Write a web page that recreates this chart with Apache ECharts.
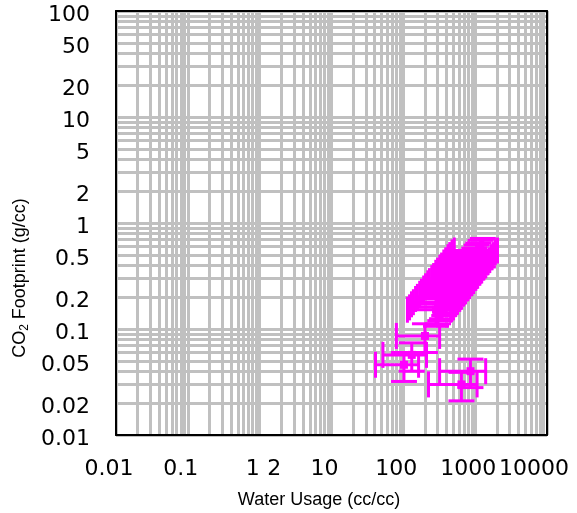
<!DOCTYPE html>
<html>
<head>
<meta charset="utf-8">
<script src="https://cdn.jsdelivr.net/npm/echarts@6/dist/echarts.min.js"></script>
<style>
  html, body { margin: 0; padding: 0; background: #fff; }
  #chart { width: 577px; height: 513px; }
</style>
</head>
<body>
<div id="chart"></div>
<script>
// water usage (cc/cc) and CO2 footprint (g/cc), with symmetric error sizes
var waterUsage = [285, 304, 326, 346, 371, 393, 422, 448, 480, 509, 547, 578,
                  622, 659, 707, 750, 805, 853, 915, 972, 1045, 1105, 1190, 1280,
                  200, 131, 102, 860, 644];
var co2Footprint = [0.152, 0.160, 0.171, 0.179, 0.192, 0.201, 0.215, 0.225, 0.241, 0.253, 0.270, 0.283,
                    0.302, 0.316, 0.339, 0.355, 0.379, 0.397, 0.424, 0.445, 0.476, 0.498, 0.528, 0.550,
                    0.086, 0.057, 0.046, 0.040, 0.030];
var waterErr = [171, 182, 196, 208, 223, 236, 253, 269, 288, 305, 328, 347,
                373, 395, 424, 450, 483, 512, 549, 583, 627, 663, 714, 768,
                120, 79, 61, 540, 420];
var co2Err = [0.046, 0.048, 0.051, 0.054, 0.058, 0.060, 0.065, 0.068, 0.072, 0.076, 0.081, 0.085,
              0.091, 0.095, 0.102, 0.107, 0.114, 0.119, 0.127, 0.134, 0.143, 0.149, 0.158, 0.165,
              0.026, 0.017, 0.014, 0.012, 0.009];

var xLabels = [0.01, 0.1, 1, 2, 10, 100, 1000, 10000];
var yLabels = [0.01, 0.02, 0.05, 0.1, 0.2, 0.5, 1, 2, 5, 10, 20, 50, 100];

// log grid lines: 1..9 in every decade
function logGrid(lo, hi) {
    var out = [];
    for (var d = lo; d < hi; d++) {
        for (var m = 1; m < 10; m++) {
            out.push(Number((m * Math.pow(10, d)).toPrecision(6)));
        }
    }
    out.push(Math.pow(10, hi));
    return out;
}

function fmt(v) {
    return String(Number(Number(v).toPrecision(6)));
}

var points = waterUsage.map(function (w, i) {
    return [w, co2Footprint[i], waterErr[i], co2Err[i]];
});

var COLOR = '#ff00ff';

function renderErrorBar(params, api) {
    var x = api.value(0), y = api.value(1), ex = api.value(2), ey = api.value(3);
    var c = api.coord([x, y]);
    var l = api.coord([x - ex, y]);
    var r = api.coord([x + ex, y]);
    var t = api.coord([x, y + ey]);
    var b = api.coord([x, y - ey]);
    var cap = 13;
    var st = { stroke: COLOR, lineWidth: 3, fill: null };
    function ln(x1, y1, x2, y2) {
        return { type: 'line', shape: { x1: x1, y1: y1, x2: x2, y2: y2 }, style: st };
    }
    return {
        type: 'group',
        children: [
            ln(l[0], c[1], r[0], c[1]),
            ln(l[0], c[1] - cap, l[0], c[1] + cap),
            ln(r[0], c[1] - cap, r[0], c[1] + cap),
            ln(c[0], t[1], c[0], b[1]),
            ln(c[0] - cap, t[1], c[0] + cap, t[1]),
            ln(c[0] - cap, b[1], c[0] + cap, b[1]),
            { type: 'rect', shape: { x: c[0] - 4, y: c[1] - 4, width: 8, height: 8 }, style: { fill: COLOR } }
        ]
    };
}

var labelFont = { fontFamily: 'DejaVu Sans', fontSize: 22, color: '#000' };

var option = {
    animation: false,
    backgroundColor: '#fff',
    grid: { left: 116, right: 30, top: 11, bottom: 78, containLabel: false, outerBoundsMode: 'none' },
    xAxis: [{
        type: 'log', logBase: 10, min: 0.01, max: 10000,
        axisLine: { show: true, onZero: false, lineStyle: { color: '#000', width: 2 } },
        axisTick: { show: false, customValues: logGrid(-2, 4) },
        splitLine: { show: true, lineStyle: { color: '#c0c0c0', width: 3 } },
        minorTick: { show: false }, minorSplitLine: { show: false },
        axisLabel: {
            customValues: xLabels, margin: 23,
            formatter: function (v) {
                var s = fmt(v);
                return s === '10000' ? '{e|' + s + '}' : '{a|' + s + '}';
            },
            rich: {
                a: Object.assign({ padding: [0, 14, 0, 0] }, labelFont),
                e: Object.assign({ padding: [0, 26, 0, 0] }, labelFont)
            }
        }
    }, {
        type: 'log', logBase: 10, min: 0.01, max: 10000, position: 'top',
        axisLine: { show: true, onZero: false, lineStyle: { color: '#000', width: 2 } },
        axisTick: { show: false }, axisLabel: { show: false }, splitLine: { show: false }
    }],
    yAxis: [{
        type: 'log', logBase: 10, min: 0.01, max: 100,
        axisLine: { show: true, onZero: false, lineStyle: { color: '#000', width: 2 } },
        axisTick: { show: false, customValues: logGrid(-2, 2) },
        splitLine: { show: true, lineStyle: { color: '#c0c0c0', width: 3 } },
        axisLabel: {
            customValues: yLabels, margin: 26,
            formatter: function (v) { return '{a|' + fmt(v) + '}'; },
            rich: { a: Object.assign({ padding: [8, 0, 0, 0] }, labelFont) }
        }
    }, {
        type: 'log', logBase: 10, min: 0.01, max: 100, position: 'right',
        axisLine: { show: true, onZero: false, lineStyle: { color: '#000', width: 2 } },
        axisTick: { show: false }, axisLabel: { show: false }, splitLine: { show: false }
    }],
    graphic: [{
        type: 'text', x: 319, y: 500,
        style: {
            text: 'Water Usage (cc/cc)', fontFamily: 'Liberation Sans', fontSize: 18,
            fill: '#000', align: 'center', verticalAlign: 'middle'
        }
    }, {
        type: 'text', x: 20, y: 278, rotation: Math.PI / 2,
        style: {
            text: '{n|CO}{s|2}{n| Footprint (g/cc)}',
            align: 'center', verticalAlign: 'middle',
            rich: {
                n: { fontFamily: 'Liberation Sans', fontSize: 18, fill: '#000' },
                s: { fontFamily: 'Liberation Sans', fontSize: 12, fill: '#000', padding: [9, 0, 0, 0] }
            }
        }
    }],
    series: [{
        type: 'custom',
        xAxisIndex: 0, yAxisIndex: 0,
        renderItem: renderErrorBar,
        data: points,
        clip: false,
        z: 5
    }]
};

var myChart = echarts.init(document.getElementById('chart'));
myChart.setOption(option);
</script>
</body>
</html>
